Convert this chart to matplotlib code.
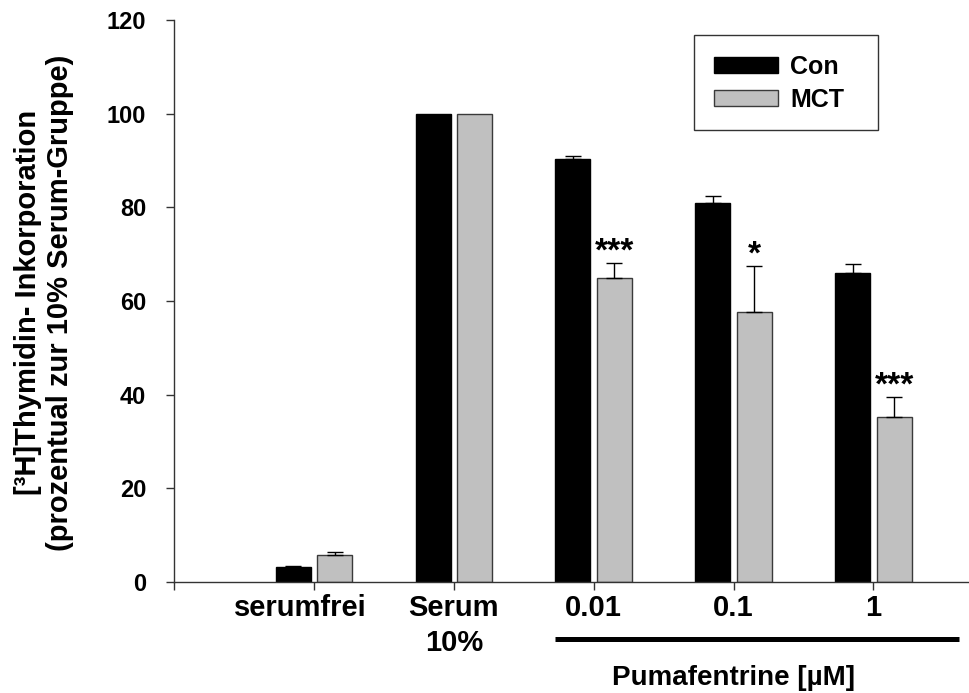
import matplotlib
matplotlib.use('Agg')
import matplotlib.pyplot as plt
import matplotlib.transforms as mtransforms
from matplotlib.patches import Rectangle
import numpy as np

plt.rcParams['font.family'] = ['Liberation Sans', 'DejaVu Sans']
plt.rcParams['font.weight'] = 'bold'

# ---- data ----
categories = ['serumfrei', 'Serum\n10%', '0.01', '0.1', '1']
series_names = ['Con', 'MCT']
con = [3.1, 100.0, 90.3, 81.0, 66.0]
con_err = [0.3, 0.0, 0.6, 1.5, 1.9]
mct = [5.7, 100.0, 65.0, 57.7, 35.3]
mct_err = [0.7, 0.0, 3.1, 9.7, 4.1]
significance = ['', '', '***', '*', '***']
yticks = [0, 20, 40, 60, 80, 100, 120]
ylabel = '[³H]Thymidin- Inkorporation\n(prozentual zur 10% Serum-Gruppe)'
group_label = 'Pumafentrine [µM]'

W, H = 970, 693
fig = plt.figure(figsize=(W / 100, H / 100), dpi=100)
ax = fig.add_axes([174 / W, 1 - 582 / H, (W - 174) / W, (582 - 20) / H])

x = np.arange(1, len(categories) + 1)
off = 0.148
bw = 0.25
con_a, con_e = np.array(con), np.array(con_err)
mct_a, mct_e = np.array(mct), np.array(mct_err)

ax.bar(x - off, con_a, bw, color='black', edgecolor='black', linewidth=1,
       label=series_names[0], zorder=2)
ax.bar(x + off, mct_a, bw, color='#c0c0c0', edgecolor='#3a3a3a', linewidth=1,
       label=series_names[1], zorder=2)

for xs, v, e in [(x - off, con_a, con_e), (x + off, mct_a, mct_e)]:
    m = e > 0
    ax.errorbar(xs[m], v[m], yerr=[np.zeros(m.sum()), e[m]], fmt='none',
                ecolor='black', elinewidth=1, capsize=6, capthick=1, zorder=3)

for xi, v, e, s in zip(x + off, mct_a, mct_e, significance):
    if s:
        ax.text(xi, v + e - 0.9, s, ha='center', va='bottom', fontsize=24,
                fontweight='bold', color='black')

ax.set_xlim(0, 5.69)
ax.set_ylim(0, 120)
ax.set_yticks(yticks)
ax.set_xticks([0] + list(x))
ax.set_xticklabels([''] + categories)

for sp in ['top', 'right']:
    ax.spines[sp].set_visible(False)
for sp in ['left', 'bottom']:
    ax.spines[sp].set_color('#333333')
    ax.spines[sp].set_linewidth(1)

ax.tick_params(axis='y', direction='out', length=6, width=1, pad=14,
               labelsize=17, color='#333333')
ax.tick_params(axis='x', direction='out', length=6, width=1, pad=3,
               labelsize=21, color='#333333')

for lbl in ax.get_xticklabels():
    lbl.set_linespacing(1.3)
# first category label sits slightly left of its tick in the reference
first = ax.xaxis.get_major_ticks()[1].label1
first.set_transform(first.get_transform() +
                    mtransforms.ScaledTranslation(-0.14, 0, fig.dpi_scale_trans))

ax.set_ylabel(ylabel, fontsize=21, fontweight='bold', va='center', ha='center',
              linespacing=1.2)
ax.yaxis.set_label_coords(-0.163, 0.497)

trans = mtransforms.blended_transform_factory(ax.transData, ax.transAxes)
ax.plot([2.72, 5.61], [-0.101, -0.101], transform=trans, color='black',
        lw=3.6, clip_on=False, solid_capstyle='butt')
ax.text(4.0, -0.17, group_label, transform=trans, ha='center', va='center',
        fontsize=20, fontweight='bold')

leg = ax.legend(loc='upper left', bbox_to_anchor=(694 / W, 1 - 35 / H),
                bbox_transform=fig.transFigure, borderaxespad=0, frameon=False,
                fontsize=18, handlelength=2.56, handleheight=0.64,
                handletextpad=0.5, borderpad=0.8, labelspacing=0.35)
leg.set_zorder(6)
ax.add_patch(Rectangle((694 / W, 1 - 130 / H), 184 / W, 95 / H,
                       transform=fig.transFigure, facecolor='white',
                       edgecolor='#333333', linewidth=1, clip_on=False,
                       zorder=5))

fig.savefig('out.png', dpi=100)
